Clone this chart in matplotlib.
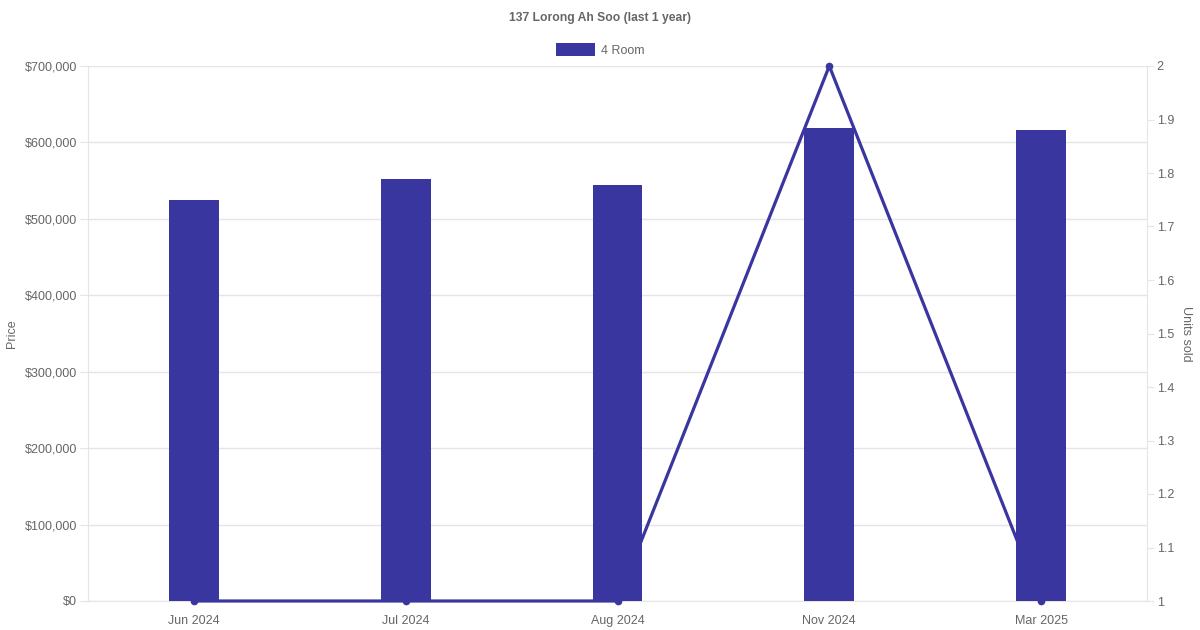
import matplotlib.pyplot as plt
from matplotlib.patches import Patch
from matplotlib.ticker import FuncFormatter, MultipleLocator

plt.rcParams['font.family'] = ['Liberation Sans', 'DejaVu Sans']

# data
months = ['Jun 2024', 'Jul 2024', 'Aug 2024', 'Nov 2024', 'Mar 2025']
prices = [524500, 552500, 544300, 618400, 616700]
units = [1, 1, 1, 2, 1]

bar_color = '#3a36a0'
text_color = '#666666'
grid_color = '#e5e5e5'

fig = plt.figure(figsize=(12, 6.3), dpi=100)
ax = fig.add_axes([88 / 1200, 1 - 601 / 630, (1147 - 88) / 1200, (601 - 66) / 630])
ax2 = ax.twinx()

x = list(range(len(months)))

ax2.set_ylim(1, 2)

# units line drawn on the price axes with the units scale, so bars can cover it
ax.plot(x, units, color=bar_color, linewidth=2.3, marker='o', markersize=4.5,
        clip_on=False, zorder=2.8, transform=ax2.transData)
ax.bar(x, prices, width=0.235, color=bar_color, zorder=3)
ax.set_xlim(-0.5, len(months) - 0.5)
ax.set_ylim(0, 700000)
ax.yaxis.set_major_locator(MultipleLocator(100000))
ax.yaxis.set_major_formatter(FuncFormatter(lambda v, p: f'${v:,.0f}'))
ax.set_xticks(x)
ax.set_xticklabels(months)
ax.grid(axis='y', color=grid_color, linewidth=1)
ax.set_axisbelow(True)
ax.tick_params(axis='x', length=0, pad=10, labelsize=9, labelcolor=text_color)
ax.tick_params(axis='y', length=6, color=grid_color, pad=2, labelsize=9, labelcolor=text_color)
ax.set_ylabel('Price', color=text_color, fontsize=9, labelpad=5)
for s in ['top', 'right']:
    ax.spines[s].set_visible(False)
for s in ['left', 'bottom']:
    ax.spines[s].set_color(grid_color)

ax2.yaxis.set_major_locator(MultipleLocator(0.1))
ax2.yaxis.set_major_formatter(FuncFormatter(lambda v, p: f'{v:g}'))
ax2.tick_params(axis='y', length=5, color=grid_color, pad=2, labelsize=9, labelcolor=text_color)
ax2.set_ylabel('Units sold', color=text_color, fontsize=9, rotation=270, labelpad=13)
for s in ['top', 'left', 'bottom']:
    ax2.spines[s].set_visible(False)
ax2.spines['right'].set_color(grid_color)

fig.text(0.5, 1 - 18 / 630, '137 Lorong Ah Soo (last 1 year)', ha='center', va='center',
         fontsize=8.7, fontweight='bold', color=text_color)
fig.legend(handles=[Patch(facecolor=bar_color, label='4 Room')], loc='center',
           bbox_to_anchor=(0.5, 1 - 50 / 630), frameon=False, fontsize=9,
           handlelength=3.1, handleheight=1.2, handletextpad=0.5, labelcolor=text_color)

fig.savefig('out.png', dpi=100)
